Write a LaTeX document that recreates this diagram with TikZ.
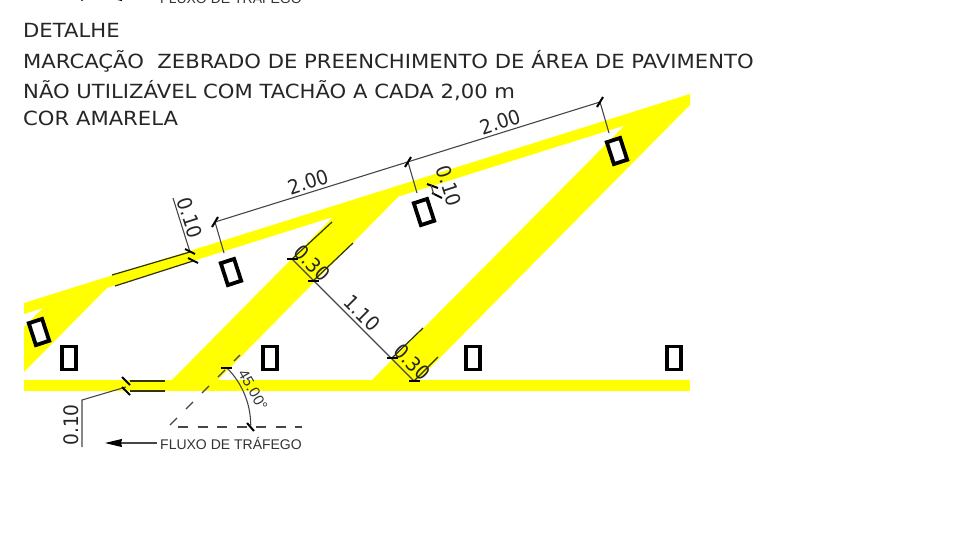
\documentclass[tikz,border=0pt]{standalone}
\usepackage{fontspec}
\setmainfont{DejaVu Sans}
\newfontfamily\titlefont[FakeStretch=1.085]{DejaVu Sans}
\newfontfamily\cotafont[FakeStretch=0.93]{DejaVu Sans}
\newfontfamily\fluxofont{Liberation Sans}
\usetikzlibrary{arrows.meta}
\definecolor{faixa}{RGB}{255,255,0}
\definecolor{cota}{RGB}{70,70,70}
\tikzset{
  faixapoly/.style={fill=faixa,draw=none},
  tachao/.style={rectangle,draw=black,line width=3.8pt,fill=white,minimum width=14pt,minimum height=23pt,inner sep=0pt},
  titulo/.style={anchor=base west,inner sep=0pt,font=\titlefont\fontsize{19.5}{20}\selectfont,text=black!85},
  dimtext/.style={inner sep=0pt,font=\cotafont\fontsize{20}{22}\selectfont,text=black!85},
  fluxotext/.style={inner sep=0pt,font=\fluxofont\fontsize{14}{16}\selectfont,text=black!80},
  dimline/.style={draw=cota,line width=1.1pt},
  fluxoarrow/.style={dimline,-{Stealth[length=17pt,width=8pt,inset=1pt,black]}},
  edgeline/.style={draw=black!80!faixa,line width=1.2pt},
  tick/.style={draw=black,line width=2pt}
}
\begin{document}
\begin{tikzpicture}[x=1pt,y=-1pt,>=stealth]
    \useasboundingbox (0,0) rectangle (980,542);
    \clip (0,0) rectangle (980,542);
    % title
    \node[titulo] (title1) at (23,37) {DETALHE};
    \node[titulo] (title2) at (23,68) {MARCAÇÃO\ \ ZEBRADO DE PREENCHIMENTO DE ÁREA DE PAVIMENTO};
    \node[titulo] (title3) at (23,98) {NÃO UTILIZÁVEL COM TACHÃO A CADA 2,00 m};
    \node[titulo] (title4) at (23,125) {COR AMARELA};
    % yellow bands
    \fill[faixapoly] (24,380) rectangle (690,391);
    \fill[faixapoly] (24,303) -- (690,94) -- (690,105) -- (24,314) -- cycle;
    \fill[faixapoly] (171,381) -- (332,218) -- (332,213) -- (398,192) -- (398,197) -- (217,381) -- cycle;
    \fill[faixapoly] (371,381) -- (623,127) -- (623,122) -- (690,100) -- (690,105) -- (417,381) -- cycle;
    \fill[faixapoly] (24,327) -- (42,309) -- (42,304) -- (107,283) -- (107,288) -- (24,372) -- cycle;
    % studs
    \node[tachao] (t1) at (69,358) {};
    \node[tachao] (t2) at (270,358) {};
    \node[tachao] (t3) at (473,358) {};
    \node[tachao] (t4) at (674,358) {};
    \node[tachao,rotate=18] (r1) at (39,332) {};
    \node[tachao,rotate=18] (r2) at (231,272) {};
    \node[tachao,rotate=18] (r3) at (424,212) {};
    \node[tachao,rotate=18] (r4) at (617,151) {};
    % band edges
    \draw[edgeline] (112,275) -- (190,252);
    \draw[edgeline] (115,286) -- (193,261);
    \draw[edgeline] (130,381) -- (165,381);
    \draw[edgeline] (130,391) -- (165,391);
    \draw[edgeline] (292,259) -- (332,222);
    \draw[edgeline] (313,281) -- (353,243);
    \draw[edgeline] (392,358) -- (423,328);
    \draw[edgeline] (414,381) -- (438,357);
    % 2.00 dimensions
    \draw[dimline] (215,222) -- (600,102);
    \draw[dimline] (215,222) -- (224,253);
    \draw[dimline] (408,162) -- (417,193);
    \draw[dimline] (600,102) -- (609,133);
    \draw[tick] (212,227) -- (218,217);
    \draw[tick] (405,167) -- (411,157);
    \draw[tick] (597,107) -- (603,97);
    \node[dimtext,rotate=18] (d1) at (308,182) {2.00};
    \node[dimtext,rotate=18] (d2) at (500,122) {2.00};
    % 0.10 dimensions
    \draw[dimline] (173,198) -- (190,252);
    \draw[tick] (185,249) -- (195,254);
    \draw[tick] (188,258) -- (198,263);
    \node[dimtext,rotate=-72] (d3) at (190,218) {0.10};
    \draw[tick] (427,184) -- (438,188);
    \draw[tick] (432,193) -- (442,198);
    \draw[dimline] (431,185) -- (434,195);
    \node[dimtext,rotate=-72] (d4) at (449,186) {0.10};
    \draw[dimline] (82,447) -- (82,400) -- (126,387);
    \draw[tick] (122,377) -- (130,385);
    \draw[tick] (122,387) -- (130,395);
    \node[dimtext,rotate=90] (d5) at (71,425) {0.10};
    % 0.30 and 1.10
    \draw[dimline] (292,259) -- (414,381);
    \draw[tick] (287,259) -- (298,259);
    \draw[tick] (308,281) -- (319,281);
    \draw[tick] (387,358) -- (398,358);
    \draw[tick] (409,381) -- (420,381);
    \node[dimtext,rotate=-45] (d6) at (312,263) {0.30};
    \node[dimtext,rotate=-45] (d7) at (362,313) {1.10};
    \node[dimtext,rotate=-45] (d8) at (412,362) {0.30};
    % angle
    \draw[dimline,dash pattern=on 10pt off 12.6pt] (170,425) -- (240,355);
    \draw[dimline,dash pattern=on 10pt off 9.5pt] (178,427) -- (302,427);
    \draw[dimline] (227,368) arc[start angle=-45,end angle=0,radius=81];
    \draw[tick] (221,368) -- (232,368);
    \draw[tick] (247,423) -- (254,431);
    \node[fluxotext,rotate=-60,font=\fluxofont\fontsize{15}{16}\selectfont] (ang) at (253,390) {45.00°};
    % traffic flow
    \node[fluxotext] (flow) at (231,443) {FLUXO DE TRÁFEGO};
    \draw[fluxoarrow] (flow.west) ++(-3,0) -- (105,443);
    % repeated sheet above
    \node[fluxotext] (flowtop) at (231,-3) {FLUXO DE TRÁFEGO};
    \draw[fluxoarrow] (flowtop.west) ++(-3,0) -- (105,-3);
    \draw[dimline] (82,1) -- (82,-10);
\end{tikzpicture}
\end{document}
